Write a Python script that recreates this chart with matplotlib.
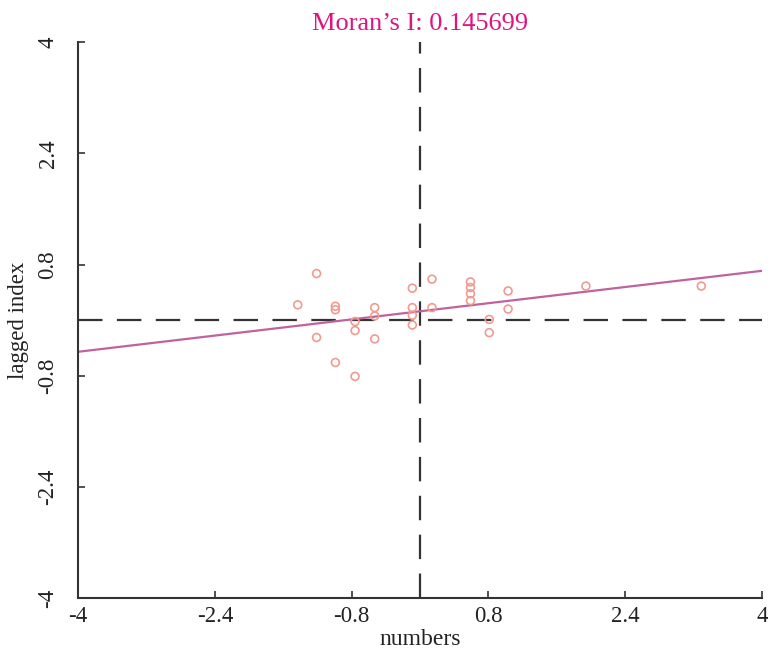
import numpy as np
import matplotlib.pyplot as plt

plt.rcParams['font.family'] = ['Liberation Serif', 'DejaVu Serif']

# standardized values and their spatial lags
numbers = [-1.43, -1.21, -1.21, -0.99, -0.99, -0.99, -0.76, -0.76, -0.76,
           -0.53, -0.53, -0.53, -0.09, -0.09, -0.09, -0.09, 0.14, 0.14,
           0.59, 0.59, 0.59, 0.59, 0.81, 0.81, 1.03, 1.03, 1.94, 3.29]
lagged = [0.22, 0.67, -0.25, 0.20, 0.15, -0.61, -0.02, -0.15, -0.81,
          0.18, 0.06, -0.27, 0.46, 0.18, 0.07, -0.07, 0.59, 0.18,
          0.55, 0.47, 0.38, 0.28, 0.01, -0.18, 0.42, 0.16, 0.49, 0.49]

moran_i = 0.145699
intercept = 0.127

ticks = [-4, -2.4, -0.8, 0.8, 2.4, 4]
tick_labels = ['-4', '-2.4', '-0.8', '0.8', '2.4', '4']

fig = plt.figure(figsize=(7.68, 6.5), dpi=100)
ax = fig.add_axes([0.1016, 0.08, 0.8906, 0.855])

ax.axhline(0, color='#333333', lw=1.6, dashes=(11, 6.5), zorder=1)
ax.axvline(0, color='#333333', lw=1.6, dashes=(11, 6.5), zorder=1)

ax.scatter(numbers, lagged, s=32, facecolors='none', edgecolors='#f29a90',
           linewidths=1.2, zorder=3)

xx = np.array([-4, 4])
ax.plot(xx, moran_i * xx + intercept, color='#c0629e', lw=1.6, zorder=2)

ax.set_xlim(-4, 4)
ax.set_ylim(-4, 4)
ax.set_xticks(ticks)
ax.set_xticklabels(tick_labels)
ax.set_yticks(ticks)
ax.set_yticklabels(tick_labels, rotation=90, va='center')

for s in ['top', 'right']:
    ax.spines[s].set_visible(False)
for s in ['left', 'bottom']:
    ax.spines[s].set_color('#333333')
    ax.spines[s].set_linewidth(1.5)

ax.tick_params(direction='in', length=5, width=1.2, color='#333333',
               labelsize=16.5, labelcolor='#222222')
ax.tick_params(axis='x', pad=6)
ax.tick_params(axis='y', pad=14)

ax.set_xlabel('numbers', fontsize=17, color='#222222', labelpad=1)
ax.set_ylabel('lagged index', fontsize=16.5, color='#222222', labelpad=6)
ax.set_title("Moran’s I: 0.145699", fontsize=19, color='#e0147f', pad=9)

fig.savefig('out.png', dpi=100)
